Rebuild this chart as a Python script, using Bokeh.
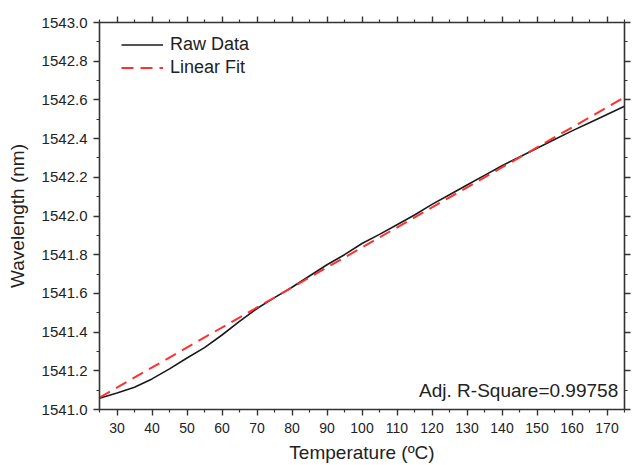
from bokeh.plotting import figure
from bokeh.models import Range1d, LinearAxis, FixedTicker, Legend, LegendItem, Label, NumeralTickFormatter
from bokeh.embed import file_html
from bokeh.resources import INLINE

# Raw data
temperature = [25, 30, 35, 40, 45, 50, 55, 60, 65, 70, 75, 80, 85, 90, 95, 100,
               105, 110, 115, 120, 125, 130, 135, 140, 145, 150, 155, 160, 165, 170, 175]
wavelength = [1541.058, 1541.085, 1541.115, 1541.158, 1541.210, 1541.266, 1541.320,
              1541.385, 1541.455, 1541.522, 1541.578, 1541.632, 1541.690, 1541.748,
              1541.800, 1541.858, 1541.905, 1541.955, 1542.005, 1542.060, 1542.110,
              1542.160, 1542.210, 1542.260, 1542.305, 1542.350, 1542.395, 1542.440,
              1542.482, 1542.525, 1542.567]

# Linear fit end points
fit_temperature = [25, 175]
fit_wavelength = [1541.062, 1542.613]

x_major = [30, 40, 50, 60, 70, 80, 90, 100, 110, 120, 130, 140, 150, 160, 170]
x_minor = [25, 35, 45, 55, 65, 75, 85, 95, 105, 115, 125, 135, 145, 155, 165, 175]
y_major = [1541.0, 1541.2, 1541.4, 1541.6, 1541.8, 1542.0, 1542.2, 1542.4, 1542.6, 1542.8, 1543.0]
y_minor = [1541.1, 1541.3, 1541.5, 1541.7, 1541.9, 1542.1, 1542.3, 1542.5, 1542.7, 1542.9]

x_title = "Temperature (ºC)"
y_title = "Wavelength (nm)"

FONT = "Liberation Sans"
AX = "#333333"
TXT = "#222222"

p = figure(width=632, height=465, output_backend="svg", toolbar_location=None,
           x_range=Range1d(25, 175), y_range=Range1d(1541.0, 1543.0),
           min_border_left=99, min_border_right=8, min_border_top=22, min_border_bottom=56,
           x_axis_label=x_title, y_axis_label=y_title)
p.background_fill_color = "white"
p.border_fill_color = "white"
p.outline_line_color = None
p.xgrid.visible = False
p.ygrid.visible = False

def style(ax, ticks, minor, labels=True):
    ax.ticker = FixedTicker(ticks=ticks, minor_ticks=minor)
    ax.axis_line_color = AX
    ax.axis_line_width = 1.6
    ax.major_tick_line_color = AX
    ax.minor_tick_line_color = AX
    ax.major_tick_line_width = 1.4
    ax.minor_tick_line_width = 1.2
    ax.major_tick_in = 0
    ax.major_tick_out = 6
    ax.minor_tick_in = 0
    ax.minor_tick_out = 3
    ax.major_label_text_font = FONT
    ax.major_label_text_color = TXT
    ax.major_label_text_font_size = "14px"
    ax.major_label_standoff = 6
    ax.axis_label_text_font = FONT
    ax.axis_label_text_font_style = "normal"
    ax.axis_label_text_font_size = "19px"
    ax.axis_label_text_color = TXT
    if not labels:
        ax.major_label_overrides = {t: "" for t in ticks}
        ax.major_label_standoff = 0

style(p.xaxis[0], x_major, x_minor)
style(p.yaxis[0], y_major, y_minor)
p.xaxis[0].major_label_standoff = 7
p.xaxis[0].axis_label_standoff = 6
p.yaxis[0].major_label_text_font_size = "15px"
p.yaxis[0].axis_label_standoff = 11
p.yaxis[0].formatter = NumeralTickFormatter(format="0.0")

top = LinearAxis()
style(top, x_major, x_minor, labels=False)
p.add_layout(top, "above")
right = LinearAxis()
style(right, y_major, y_minor, labels=False)
p.add_layout(right, "right")

raw = p.line(temperature, wavelength, line_color="#1a1a1a", line_width=1.6,
             line_join="round")
fit = p.line(fit_temperature, fit_wavelength, line_color="#ff3030", line_width=2,
             line_dash="12 7")

legend = Legend(items=[LegendItem(label="Raw Data", renderers=[raw]),
                       LegendItem(label="Linear Fit", renderers=[fit])],
                location=(22, 330), border_line_color=None, background_fill_alpha=0,
                padding=0, margin=0, spacing=0, glyph_width=42, glyph_height=23,
                label_height=23, label_standoff=7,
                label_text_font=FONT, label_text_font_size="18px", label_text_color=TXT)
p.add_layout(legend)

p.add_layout(Label(x=173.2, y=1541.1, text="Adj. R-Square=0.99758", text_align="right",
                   text_baseline="middle", text_font=FONT, text_font_size="19px",
                   text_color=TXT))

open("out.html", "w").write(file_html(p, INLINE))
